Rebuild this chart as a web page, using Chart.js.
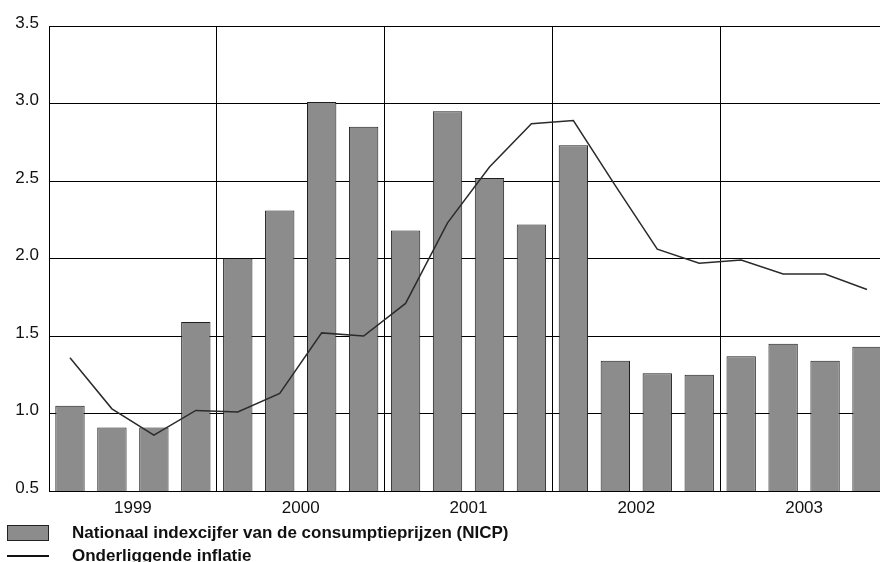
<!DOCTYPE html>
<html>
<head>
<meta charset="utf-8">
<script src="https://cdn.jsdelivr.net/npm/chart.js@4"></script>
<style>
    html, body { margin: 0; padding: 0; background: #fff; width: 880px; height: 562px; overflow: hidden; }
    #wrap { position: relative; width: 890px; height: 562px; }
    #legend { position: absolute; left: 7px; top: 521px; font: bold 17px "Liberation Sans", Arial, sans-serif; color: #111; }
    .item { display: flex; align-items: center; height: 23px; white-space: nowrap; }
    .swatch { width: 42px; margin-right: 23px; box-sizing: border-box; }
</style>
</head>
<body>
<div id="wrap">
    <canvas id="chart" width="890" height="562"></canvas>
    <div id="legend"></div>
</div>
<script>
const quarters = ['1999 K1', '1999 K2', '1999 K3', '1999 K4',
                  '2000 K1', '2000 K2', '2000 K3', '2000 K4',
                  '2001 K1', '2001 K2', '2001 K3', '2001 K4',
                  '2002 K1', '2002 K2', '2002 K3', '2002 K4',
                  '2003 K1', '2003 K2', '2003 K3', '2003 K4'];
const years = ['1999', '2000', '2001', '2002', '2003'];
const nicp = [1.05, 0.91, 0.91, 1.59, 2.00, 2.31, 3.01, 2.85, 2.18, 2.95,
              2.52, 2.22, 2.73, 1.34, 1.26, 1.25, 1.37, 1.45, 1.34, 1.43];
const onderliggend = [1.36, 1.03, 0.86, 1.02, 1.01, 1.13, 1.52, 1.50, 1.71, 2.23,
                      2.59, 2.87, 2.89, 2.47, 2.06, 1.97, 1.99, 1.90, 1.90, 1.80];
const yTicks = [0.5, 1.0, 1.5, 2.0, 2.5, 3.0, 3.5];

const barLabel = 'Nationaal indexcijfer van de consumptieprijzen (NICP)';
const lineLabel = 'Onderliggende inflatie';
const font = { family: '"Liberation Sans", Arial, sans-serif', size: 17 };

var ctx = document.getElementById('chart').getContext('2d');
var chart = new Chart(ctx, {
    data: {
        labels: quarters,
        datasets: [{
            type: 'line',
            label: lineLabel,
            data: onderliggend,
            borderColor: '#2b2b2b',
            borderWidth: 1.5,
            pointRadius: 0,
            tension: 0,
            fill: false,
            order: 0
        }, {
            type: 'bar',
            label: barLabel,
            data: nicp,
            backgroundColor: '#8c8c8c',
            borderColor: '#1e1e1e',
            borderWidth: 1,
            categoryPercentage: 1,
            barPercentage: 0.7,
            order: 1
        }]
    },
    options: {
        responsive: false,
        animation: false,
        layout: { padding: { top: 26, right: 2, bottom: 41, left: 0 } },
        plugins: { legend: { display: false }, tooltip: { enabled: false } },
        scales: {
            x: { display: false, offset: true },
            year: {
                type: 'category',
                axis: 'x',
                position: 'bottom',
                labels: years,
                offset: true,
                grid: { offset: true, color: '#000', lineWidth: 1, drawTicks: false },
                border: { color: '#000' },
                ticks: { color: '#111', font: font, padding: 7, maxRotation: 0 },
                afterFit: function(scale){ scale.height = 30; }
            },
            y: {
                min: 0.5,
                max: 3.5,
                afterBuildTicks: function(scale){
                    scale.ticks = yTicks.map(function(v){ return { value: v }; });
                },
                grid: { color: '#000', lineWidth: 1, drawTicks: false },
                border: { color: '#000' },
                ticks: {
                    color: '#111',
                    font: font,
                    padding: 10,
                    labelOffset: -3,
                    callback: function(value){ return value.toFixed(1); }
                },
                afterFit: function(scale){ scale.width = 49; }
            }
        }
    }
});

// legend onder de grafiek
var legend = document.getElementById('legend');
function addItem(text, swatchCss){
    var row = document.createElement('div');
    row.className = 'item';
    var sw = document.createElement('span');
    sw.className = 'swatch';
    sw.style.cssText = swatchCss;
    var label = document.createElement('span');
    label.textContent = text;
    row.appendChild(sw);
    row.appendChild(label);
    legend.appendChild(row);
}
addItem(barLabel, 'height:16px;background:#8c8c8c;border:1px solid #222;');
addItem(lineLabel, 'height:2px;background:#111;');
</script>
</body>
</html>
